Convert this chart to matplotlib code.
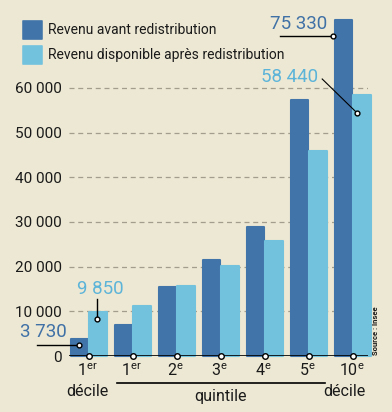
import numpy as np
import matplotlib
matplotlib.use("Agg")
import matplotlib.pyplot as plt

plt.rcParams['font.family'] = ['Roboto', 'DejaVu Sans']
plt.rcParams['mathtext.fontset'] = 'custom'
plt.rcParams['mathtext.rm'] = 'Roboto'
plt.rcParams['mathtext.default'] = 'regular'

# data
groups = ["1$^{er}$", "1$^{er}$", "2$^{e}$", "3$^{e}$", "4$^{e}$", "5$^{e}$", "10$^{e}$"]
avant = [3730, 7000, 15500, 21500, 28900, 57300, 75330]
apres = [9850, 11200, 15700, 20100, 25700, 45900, 58440]
series_names = ["Revenu avant redistribution", "Revenu disponible après redistribution"]
yticks = [0, 10000, 20000, 30000, 40000, 50000, 60000]

bg = "#ede8d3"
dark = "#4174a9"
light = "#72c2de"
dark_txt = "#3f70a6"
light_txt = "#5cb4d9"
ink = "#1a1a1a"

def fmt(v):
    return "{:,}".format(v).replace(",", " ")

fig = plt.figure(figsize=(3.92, 4.12), dpi=100, facecolor=bg)
ax = fig.add_axes([69/392, 56/412, 299/392, 356/412], facecolor=bg)
px = 356 / 79700.0  # pixels per unit

def ypx(p):
    return (356 - p) / px

x = np.arange(len(groups))
w = 0.40
ax.bar(x - 0.215, avant, w, color=dark, edgecolor=dark, lw=1.5, joinstyle='round', zorder=3, clip_on=False)
ax.bar(x + 0.205, apres, w, color=light, edgecolor=light, lw=1.5, joinstyle='round', zorder=3, clip_on=False)

ax.set_xlim(-0.4545, 6.341)
ax.set_ylim(0, 79700)
for s in ax.spines.values():
    s.set_visible(False)
ax.set_xticks([])
ax.set_yticks(yticks)
ax.set_yticklabels([fmt(v) for v in yticks], fontsize=11, color=ink)
ax.tick_params(axis='y', length=0, pad=5)
for v in yticks[1:]:
    ax.axhline(v, color="#a29d8c", lw=0.9, dashes=(4, 3), zorder=1)
ax.axhline(0, color="black", lw=1.2, zorder=4)
ax.scatter(x, np.zeros(len(x)), s=16, facecolor="white", edgecolor="black", lw=1, zorder=5, clip_on=False)

# category labels
for i, g in enumerate(groups):
    ax.text(i - 0.03, ypx(371), g, ha='center', va='center', fontsize=11.5, color=ink, clip_on=False)
ax.text(-0.03, ypx(391), "décile", ha='center', va='center', fontsize=11.5, color=ink)
ax.text(5.8, ypx(391), "décile", ha='center', va='center', fontsize=11.5, color=ink)
ax.plot([0.64, 5.36], [ypx(383), ypx(383)], color="black", lw=1.2, clip_on=False)
ax.text(3, ypx(397), "quintile", ha='center', va='center', fontsize=11.5, color=ink)

# value callouts
# 3 730
d0 = avant[0] - 1250
ax.text(-0.5, ypx(332), fmt(avant[0]), ha='right', va='center',
        fontsize=13.5, color=dark_txt, clip_on=False)
ax.plot([-1.18, -0.22], [d0, d0], color="black", lw=1, zorder=6, clip_on=False)
ax.scatter([-0.22], [d0], s=12, facecolor="white", edgecolor="black", lw=1, zorder=7)
# 9 850
d1 = apres[0] - 1550
ax.text(0.25, ypx(289), fmt(apres[0]), ha='center', va='center',
        fontsize=13.5, color=light_txt, clip_on=False)
ax.plot([0.18, 0.18], [ypx(299), d1], color="black", lw=1, zorder=6)
ax.scatter([0.18], [d1], s=12, facecolor="white", edgecolor="black", lw=1, zorder=7)
# 75 330
d2 = avant[6] - 3700
ax.text(5.42, ypx(24), fmt(avant[6]), ha='right', va='center',
        fontsize=13.5, color=dark_txt, clip_on=False)
ax.plot([4.34, 5.55], [d2, d2], color="black", lw=1, zorder=6)
ax.scatter([5.55], [d2], s=12, facecolor="white", edgecolor="black", lw=1, zorder=7)
# 58 440
d3 = apres[6] - 4100
ax.text(5.2, ypx(77), fmt(apres[6]), ha='right', va='center',
        fontsize=13.5, color=light_txt, clip_on=False)
ax.plot([5.3, 6.1], [ypx(79), d3], color="black", lw=0.8, zorder=6)
ax.scatter([6.1], [d3], s=12, facecolor="white", edgecolor="black", lw=1, zorder=7)

# legend
for k, (name, c) in enumerate(zip(series_names, [dark, light])):
    yy = 20 + k * 25
    fig.patches.append(matplotlib.patches.FancyBboxPatch(
        (23/392, 1 - (yy + 19)/412), 19/392, 18/412, boxstyle="round,pad=0.002",
        transform=fig.transFigure, facecolor=c, edgecolor='none'))
    fig.text(48/392, 1 - (yy + 10)/412, name, ha='left', va='center', fontsize=10, color=ink)

fig.text(375/392, 1 - 331/412, "Source : Insee", rotation=90, ha='center', va='center',
         fontsize=5.5, fontweight='bold', color=ink)

fig.savefig("out.png", dpi=100, facecolor=bg)
